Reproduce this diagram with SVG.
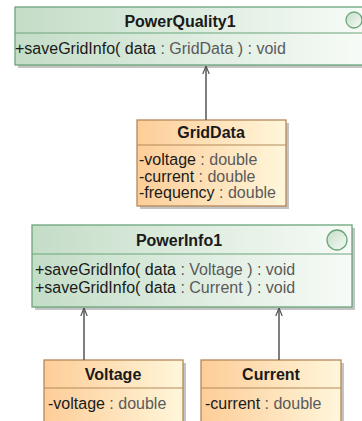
<svg xmlns="http://www.w3.org/2000/svg" width="362" height="421" viewBox="0 0 362 421">
<defs>
<linearGradient id="gGreen" x1="0" y1="0" x2="1" y2="0">
<stop offset="0" stop-color="#c4ddc7"/><stop offset="1" stop-color="#f7fbf7"/>
</linearGradient>
<linearGradient id="gOrange" x1="0" y1="0" x2="1" y2="0">
<stop offset="0" stop-color="#fdcd98"/><stop offset="1" stop-color="#fff6da"/>
</linearGradient>
<linearGradient id="gCircle" x1="0" y1="0" x2="1" y2="1">
<stop offset="0" stop-color="#c4ddc7"/><stop offset="1" stop-color="#f7fbf7"/>
</linearGradient>
<marker id="open" viewBox="0 0 10 10" refX="10" refY="5" markerWidth="8" markerHeight="8" orient="auto" markerUnits="userSpaceOnUse">
<path d="M0,1 L10,5 L0,9" fill="none" stroke="#555" stroke-width="1.5"/>
</marker>
</defs>
<style>
.shadow{fill:#c4c4c4;}
.green{fill:url(#gGreen);stroke:#6aa57a;stroke-width:1.3;}
.orange{fill:url(#gOrange);stroke:#b4895a;stroke-width:1.3;}
.gsep{stroke:#6aa57a;stroke-width:1.2;}
.osep{stroke:#b4895a;stroke-width:1.2;}
.title{font-family:"Liberation Sans",Arial,sans-serif;font-weight:bold;font-size:16px;fill:#1a1a1a;text-anchor:middle;}
.txt{font-family:"Liberation Sans",Arial,sans-serif;font-size:16px;fill:#1a1a1a;}
.ty{fill:#5a5a5a;}
.conn{stroke:#555;stroke-width:1.5;fill:none;marker-end:url(#open);}
.circ{fill:url(#gCircle);stroke:#6aa57a;stroke-width:1.3;}
</style>

<g id="PowerQuality1">
<rect class="shadow" x="18" y="10" width="350" height="58"/>
<rect class="green" x="15" y="7" width="350" height="58"/>
<line class="gsep" x1="15" y1="33" x2="365" y2="33"/>
<circle class="circ" cx="354" cy="20" r="8"/>
<text class="title" x="180" y="27">PowerQuality1</text>
<text class="txt" x="15" y="54">+saveGridInfo( data<tspan class="ty"> : GridData ) : void</tspan></text>
</g>

<g id="GridData">
<rect class="shadow" x="140" y="123" width="149" height="86"/>
<rect class="orange" x="137" y="120" width="149" height="86"/>
<line class="osep" x1="137" y1="145" x2="286" y2="145"/>
<text class="title" x="211" y="138">GridData</text>
<text class="txt" x="139" y="165">-voltage<tspan class="ty"> : double</tspan></text>
<text class="txt" x="139" y="182">-current<tspan class="ty"> : double</tspan></text>
<text class="txt" x="139" y="198">-frequency<tspan class="ty"> : double</tspan></text>
</g>

<g id="PowerInfo1">
<rect class="shadow" x="35" y="228" width="320" height="82"/>
<rect class="green" x="32" y="225" width="320" height="82"/>
<line class="gsep" x1="32" y1="254" x2="352" y2="254"/>
<circle class="circ" cx="337" cy="240" r="10"/>
<text class="title" x="179" y="246">PowerInfo1</text>
<text class="txt" x="35" y="275">+saveGridInfo( data<tspan class="ty"> : Voltage ) : void</tspan></text>
<text class="txt" x="35" y="293">+saveGridInfo( data<tspan class="ty"> : Current ) : void</tspan></text>
</g>

<g id="Voltage">
<rect class="shadow" x="47" y="363" width="139" height="70"/>
<rect class="orange" x="44" y="360" width="139" height="70"/>
<line class="osep" x1="44" y1="388" x2="183" y2="388"/>
<text class="title" x="113" y="380">Voltage</text>
<text class="txt" x="48" y="409">-voltage<tspan class="ty"> : double</tspan></text>
</g>

<g id="Current">
<rect class="shadow" x="204" y="363" width="140" height="70"/>
<rect class="orange" x="201" y="360" width="140" height="70"/>
<line class="osep" x1="201" y1="388" x2="341" y2="388"/>
<text class="title" x="271" y="380">Current</text>
<text class="txt" x="205" y="409">-current<tspan class="ty"> : double</tspan></text>
</g>

<g id="connectors">
<line class="conn" x1="206" y1="120" x2="206" y2="66"/>
<line class="conn" x1="84" y1="360" x2="84" y2="308"/>
<line class="conn" x1="279" y1="360" x2="279" y2="308"/>
</g>
</svg>
